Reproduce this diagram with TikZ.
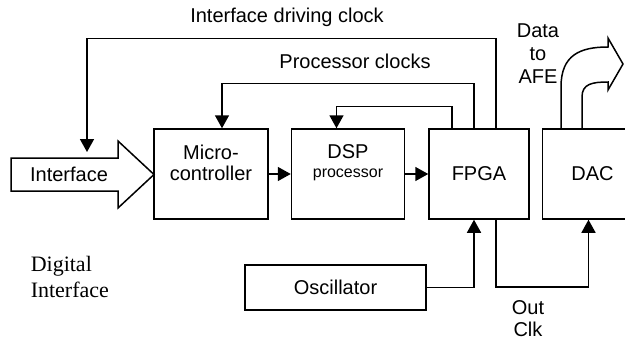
\documentclass[tikz,border=0pt]{standalone}
\usepackage{fontspec}
\setmainfont{Liberation Sans}
\newfontfamily\timesface{Liberation Serif}
\usetikzlibrary{arrows.meta, positioning}

\begin{document}
\begin{tikzpicture}[x=1pt, y=-1pt, >={Triangle[length=13pt, width=14pt]}, node distance=22pt, line width=1.5pt, font=\fontsize{20}{21}\selectfont]
            \tikzset{blockbox/.style={rectangle, draw, minimum width=#1, minimum height=90pt, inner sep=0pt},
                     blockbox/.default=100pt,
                     boxtext/.style={align=center, yshift=11pt}}
            \clip (0,0) rectangle (625,343);
            % main chain
            \node[blockbox=114pt, label={[boxtext]center:Micro-\\controller}] (mcu) at (211,174) {};
            \node[blockbox=113pt, right=of mcu, label={[boxtext]center:DSP\\[-2pt]{\fontsize{16}{18}\selectfont processor}}] (dsp) {};
            \node[blockbox, right=23pt of dsp] (fpga) {FPGA};
            \node[blockbox, right=12pt of fpga] (dac) {DAC};
            \node[draw, minimum width=181pt, minimum height=45pt, inner sep=0pt] (osc) at (335.5,287.5) {Oscillator};
            % interface arrow
            \draw (11,158) -- (118,158) -- (118,141) -- (154,174.5) -- (118,208) -- (118,191) -- (11,191) -- cycle;
            \node (iface) at (69,174) {Interface};
            \coordinate (ifclk) at (87,152);
            \node[align=left, anchor=west, inner sep=0pt, font=\timesface\fontsize{22}{26}\selectfont] (digital) at (30,277) {Digital\\Interface};
            % data path
            \draw[->] (mcu) -- (dsp);
            \draw[->] (dsp) -- (fpga);
            \draw[->] (osc.east) -| ([xshift=-5pt]fpga.south);
            \draw[->] ([xshift=17pt]fpga.south) -- ++(0,67) -| ([xshift=-4pt]dac.south);
            \node[align=center, font=\fontsize{20}{22}\selectfont] (outclk) at (528,319) {Out\\Clk};
            % clocks
            \draw[->] ([xshift=17pt]fpga.north) -- ++(0,-90) -| (ifclk);
            \draw[->] ([xshift=-5pt]fpga.north) -- ++(0,-45) -| ([xshift=11pt]mcu.north);
            \draw[->] ([xshift=-27pt]fpga.north) -- ++(0,-22) -| ([xshift=-11.5pt]dsp.north);
            \node[anchor=base] (ifclklbl) at (287,22) {Interface driving clock};
            \node[anchor=base] (proclbl) at (355,68) {Processor clocks};
            % output to AFE
            \draw (561,129) -- (561,87) .. controls (561,55) and (580,47) .. (608,47) -- (608,38) -- (623,64)
                  -- (608,90) -- (608,82) .. controls (592,82) and (582,84) .. (582,97) -- (582,129);
            \node[align=center, font=\fontsize{20}{23}\selectfont] (afe) at (538,54) {Data\\to\\AFE};
        \end{tikzpicture}
\end{document}
